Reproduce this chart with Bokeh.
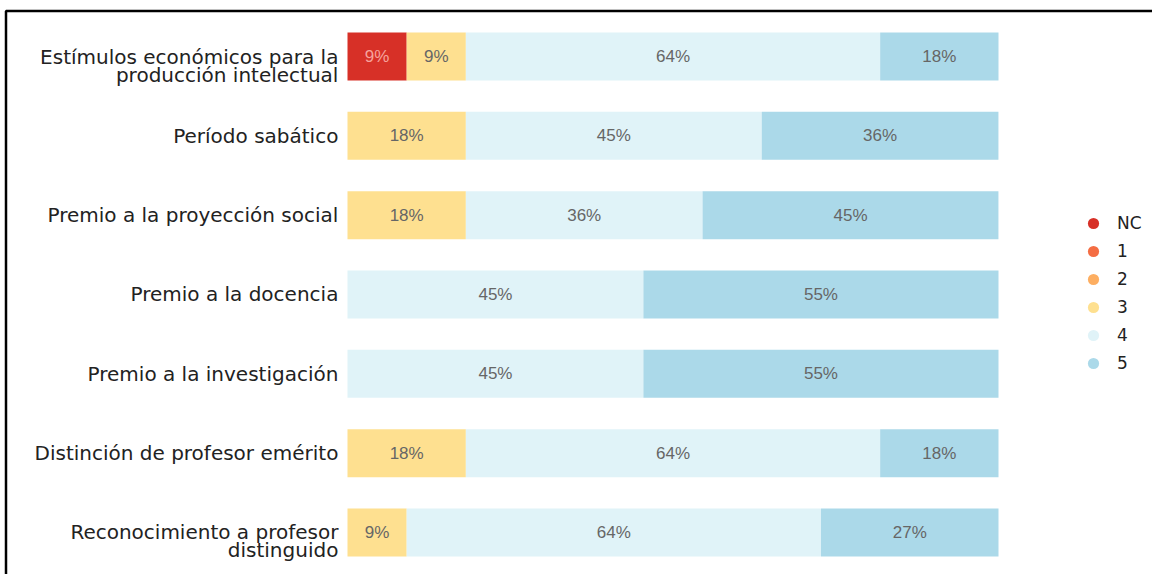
from bokeh.plotting import figure
from bokeh.models import Range1d, ColumnDataSource, Legend, LegendItem
from bokeh.core.properties import value
from bokeh.embed import file_html
from bokeh.resources import INLINE

categories = [
    "Estímulos económicos para la\nproducción intelectual",
    "Período sabático",
    "Premio a la proyección social",
    "Premio a la docencia",
    "Premio a la investigación",
    "Distinción de profesor emérito",
    "Reconocimiento a profesor\ndistinguido",
]
levels = ["NC", "1", "2", "3", "4", "5"]
s_nc = [9.09, 0, 0, 0, 0, 0, 0]
s_1 = [0, 0, 0, 0, 0, 0, 0]
s_2 = [0, 0, 0, 0, 0, 0, 0]
s_3 = [9.09, 18.18, 18.18, 0, 0, 18.18, 9.09]
s_4 = [63.64, 45.45, 36.36, 45.45, 45.45, 63.64, 63.64]
s_5 = [18.18, 36.36, 45.45, 54.55, 54.55, 18.18, 27.27]
series = [s_nc, s_1, s_2, s_3, s_4, s_5]
colors = ["#d73027", "#f46d43", "#fdae61", "#fee090", "#e0f3f8", "#abd9e9"]
label_colors = ["#f6a39c", "#666666", "#666666", "#666666", "#666666", "#666666"]

W, H = 1152, 574
bar_left_px, bar_right_px = 347, 998
ppu = (bar_right_px - bar_left_px) / 100.0
row_px = 79.33
top_center_px = 56

x0 = -bar_left_px / ppu
x1 = (W - bar_left_px) / ppu
y_top = -top_center_px / row_px
y_bot = (H - top_center_px) / row_px

p = figure(width=W, height=H, output_backend="svg", toolbar_location=None,
           x_range=Range1d(x0, x1), y_range=Range1d(y_bot, y_top),
           min_border=0, min_border_left=0, min_border_right=0,
           min_border_top=0, min_border_bottom=0)
p.axis.visible = False
p.grid.visible = False
p.outline_line_color = None
p.background_fill_color = "white"
p.border_fill_color = "white"

# page frame (top and left edges only, as in the cropped original)
fx = x0 + 5.5 / ppu
fy = y_top + 10.5 / row_px
p.line(x=[fx, fx, x1 + 5], y=[y_bot + 1, fy, fy], line_color="black", line_width=2.5)

ypos = list(range(len(categories)))
cum = [0.0] * len(categories)
legend_items = []
for lvl, vals, col, lc in zip(levels, series, colors, label_colors):
    idx = [i for i, v in enumerate(vals) if v > 0]
    left = [cum[i] for i in idx]
    right = [cum[i] + vals[i] for i in idx]
    ys = [ypos[i] for i in idx]
    if idx:
        src = ColumnDataSource(dict(y=ys, left=left, right=right,
                                    mid=[(l + r) / 2 for l, r in zip(left, right)],
                                    lab=[f"{round(vals[i])}%" for i in idx]))
        p.hbar(y="y", left="left", right="right", height=0.605, source=src,
               fill_color=col, line_color=None)
        p.text(x="mid", y="y", text="lab", source=src, text_align="center",
               text_baseline="middle", text_color=lc,
               text_font=value("Liberation Sans"), text_font_size="17px")
    for i in range(len(categories)):
        cum[i] += vals[i]
    # legend marker (kept outside the visible range)
    dummy = p.scatter(x=[x0 - 100], y=[0], marker="circle", size=12,
                      fill_color=col, line_color=None)
    legend_items.append(LegendItem(label=lvl, renderers=[dummy]))

first_lines = [c.split("\n")[0] for c in categories]
second_idx = [i for i, c in enumerate(categories) if "\n" in c]
cat_src1 = ColumnDataSource(dict(y=ypos, lab=first_lines, x=[-1.4] * len(categories)))
cat_src2 = ColumnDataSource(dict(y=[ypos[i] for i in second_idx],
                                 lab=[categories[i].split("\n")[1] for i in second_idx],
                                 x=[-1.4] * len(second_idx)))
for src, off in ((cat_src1, 0), (cat_src2, 18)):
    p.text(x="x", y="y", text="lab", source=src, text_align="right",
           text_baseline="middle", text_color="#222222", y_offset=off,
           text_font=value("DejaVu Sans"), text_font_size="20px")

legend = Legend(items=legend_items, location=(1079, H - 209 - 168), orientation="vertical",
                glyph_width=28, glyph_height=28, label_height=28, spacing=0,
                padding=0, margin=0, border_line_color=None, background_fill_alpha=0,
                label_standoff=10, label_text_font="DejaVu Sans",
                label_text_font_size="17px", label_text_color="#222222")
p.add_layout(legend)

open("out.html", "w").write(file_html(p, INLINE))
